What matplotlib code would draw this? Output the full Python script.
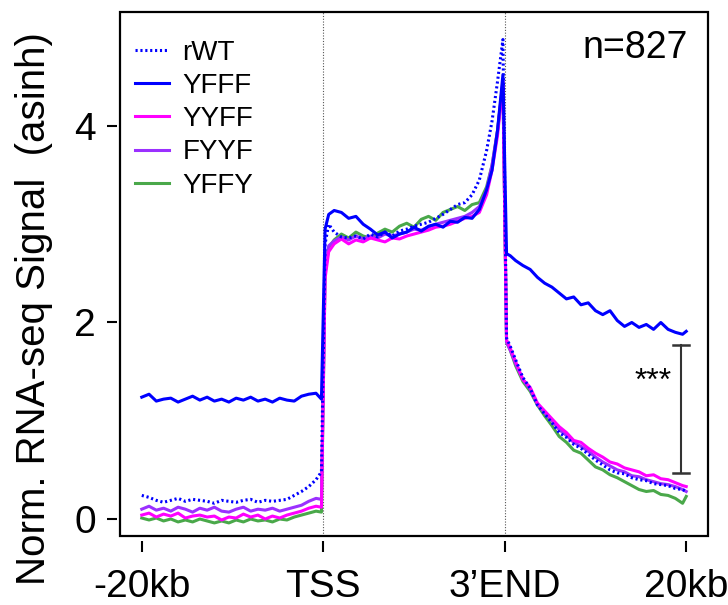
import numpy as np
import matplotlib

matplotlib.use("Agg")
import matplotlib.pyplot as plt
from matplotlib.patches import Rectangle

plt.rcParams["font.family"] = ["Liberation Sans", "DejaVu Sans"]

# bin positions: upstream (-20kb..TSS), scaled gene body (TSS..3'END), downstream (3'END..20kb)
UP_X = list(range(0, 100, 4)) + [99]
BODY_X = [101, 103] + list(range(106, 191, 4)) + [193, 196, 199]
DOWN_X = [201, 203] + list(range(206, 299, 4)) + [300]
X = np.array(UP_X + BODY_X + DOWN_X)

TICK_POS = [0, 100, 200, 300]
TICK_LABELS = ["-20kb", "TSS", "3\u2019END", "20kb"]
Y_TICKS = [0, 2, 4]

RWT = [
    0.24, 0.22, 0.19, 0.17, 0.19, 0.21, 0.18, 0.20, 0.19, 0.18, 0.16, 0.19, 0.18,
    0.17, 0.19, 0.20, 0.17, 0.19, 0.18, 0.19, 0.20, 0.24, 0.28, 0.33, 0.40, 0.48,
    2.80, 3.00, 2.92, 2.87, 2.86, 2.88, 2.85, 2.90, 2.87, 2.92, 2.88, 2.93, 2.95,
    2.98, 3.00, 3.02, 3.06, 3.10, 3.15, 3.20, 3.22, 3.30, 3.45, 3.75, 4.05, 4.45, 4.88,
    1.84, 1.76, 1.62, 1.44, 1.33, 1.16, 1.07, 0.98, 0.88, 0.83, 0.76, 0.72, 0.66,
    0.60, 0.55, 0.50, 0.47, 0.46, 0.42, 0.40, 0.39, 0.36, 0.35, 0.34, 0.31, 0.30, 0.28,
]
YFFF = [
    1.24, 1.27, 1.20, 1.22, 1.23, 1.19, 1.22, 1.25, 1.21, 1.24, 1.20, 1.22, 1.19,
    1.23, 1.21, 1.24, 1.20, 1.22, 1.19, 1.23, 1.21, 1.20, 1.25, 1.27, 1.28, 1.22,
    2.95, 3.10, 3.14, 3.12, 3.06, 3.08, 3.00, 2.95, 2.89, 2.92, 2.86, 2.90, 2.92,
    2.97, 2.93, 2.98, 3.00, 2.97, 3.03, 3.02, 3.07, 3.06, 3.15, 3.35, 3.55, 3.95, 4.52,
    2.70, 2.68, 2.63, 2.58, 2.54, 2.46, 2.40, 2.36, 2.30, 2.24, 2.26, 2.18, 2.20,
    2.12, 2.08, 2.12, 2.02, 1.96, 2.00, 1.95, 1.98, 1.93, 2.00, 1.93, 1.90, 1.88, 1.91,
]
YYFF = [
    0.04, 0.06, 0.02, 0.05, 0.03, 0.06, 0.01, 0.03, 0.04, 0.02, 0.03, -0.01, 0.02,
    0.01, 0.05, 0.02, 0.04, 0.00, 0.03, 0.01, 0.04, 0.06, 0.08, 0.11, 0.13, 0.12,
    2.45, 2.72, 2.80, 2.85, 2.80, 2.84, 2.82, 2.86, 2.84, 2.82, 2.86, 2.85, 2.88,
    2.90, 2.92, 2.94, 2.97, 2.98, 3.00, 3.03, 3.06, 3.08, 3.12, 3.30, 3.55, 3.90, 4.45,
    1.82, 1.74, 1.60, 1.42, 1.34, 1.18, 1.10, 1.02, 0.94, 0.88, 0.80, 0.78, 0.72,
    0.67, 0.63, 0.58, 0.56, 0.52, 0.50, 0.48, 0.44, 0.45, 0.41, 0.40, 0.37, 0.34, 0.33,
]
FYYF = [
    0.10, 0.13, 0.09, 0.11, 0.08, 0.12, 0.10, 0.07, 0.11, 0.09, 0.12, 0.08, 0.07,
    0.10, 0.12, 0.08, 0.10, 0.09, 0.11, 0.08, 0.10, 0.12, 0.14, 0.18, 0.21, 0.20,
    2.55, 2.78, 2.83, 2.87, 2.84, 2.88, 2.85, 2.88, 2.86, 2.90, 2.88, 2.90, 2.92,
    2.95, 2.94, 2.97, 3.00, 3.02, 3.04, 3.06, 3.08, 3.12, 3.18, 3.35, 3.60, 3.95, 4.45,
    1.80, 1.72, 1.58, 1.42, 1.32, 1.17, 1.08, 1.00, 0.91, 0.85, 0.78, 0.74, 0.69,
    0.63, 0.58, 0.54, 0.50, 0.48, 0.44, 0.43, 0.40, 0.38, 0.36, 0.35, 0.33, 0.30, 0.28,
]
YFFY = [
    0.01, -0.01, 0.01, -0.02, 0.00, -0.03, -0.01, -0.03, 0.00, -0.02, -0.04, -0.02, -0.04,
    -0.01, -0.03, 0.00, -0.02, -0.01, -0.03, 0.00, -0.01, 0.02, 0.04, 0.06, 0.08, 0.07,
    2.50, 2.76, 2.84, 2.90, 2.86, 2.92, 2.88, 2.86, 2.91, 2.95, 2.92, 2.98, 3.01,
    2.97, 3.05, 3.08, 3.04, 3.12, 3.15, 3.18, 3.14, 3.20, 3.22, 3.38, 3.60, 3.95, 4.42,
    1.80, 1.72, 1.56, 1.40, 1.30, 1.16, 1.05, 0.95, 0.84, 0.78, 0.70, 0.67, 0.60,
    0.53, 0.50, 0.45, 0.42, 0.38, 0.34, 0.30, 0.28, 0.29, 0.25, 0.24, 0.21, 0.16, 0.23,
]

N_GENES = 827
SIG_X = 297
SIG_LOW, SIG_HIGH = 0.47, 1.77

BLUE = "#0000FF"
MAGENTA = "#FF00FF"
PURPLE = "#9B30FF"
GREEN = "#4AA84A"

fig = plt.figure(figsize=(7.28, 6.05), dpi=100)
ax = fig.add_axes([120 / 728, 69 / 605, 588 / 728, 524 / 605])

for xv in (100, 200):
    ax.axvline(xv, color="#555555", lw=0.8, ls=(0, (1, 1.5)), zorder=1)

lw = 2.2
h_green, = ax.plot(X, YFFY, color=GREEN, lw=lw, zorder=2)
h_purple, = ax.plot(X, FYYF, color=PURPLE, lw=lw, zorder=2)
h_mag, = ax.plot(X, YYFF, color=MAGENTA, lw=lw, zorder=2)
h_yfff, = ax.plot(X, YFFF, color=BLUE, lw=lw, zorder=3)
h_rwt, = ax.plot(X, RWT, color=BLUE, lw=lw, ls=(0, (0.7, 0.9)), zorder=3)

ax.legend(
    [h_rwt, h_yfff, h_mag, h_purple, h_green],
    ["rWT", "YFFF", "YYFF", "FYYF", "YFFY"],
    loc="upper left",
    bbox_to_anchor=(0.026, 0.947),
    frameon=False,
    fontsize=20,
    handlelength=1.2,
    handletextpad=0.5,
    labelspacing=0.26,
    borderpad=0,
    borderaxespad=0,
)

ax.text(0.966, 0.965, f"n={N_GENES}", transform=ax.transAxes, ha="right", va="top", fontsize=27)

# significance bracket
ax.plot([SIG_X, SIG_X], [SIG_LOW, SIG_HIGH], color="#333333", lw=1.5)
ax.plot([SIG_X - 4.5, SIG_X + 4.5], [SIG_HIGH, SIG_HIGH], color="#333333", lw=1.8)
ax.plot([SIG_X - 4.5, SIG_X + 4.5], [SIG_LOW, SIG_LOW], color="#333333", lw=1.8)
ax.text(SIG_X - 15, (SIG_LOW + SIG_HIGH) / 2 + 0.28, "***", ha="center", va="center", fontsize=23)

ax.set_xlim(-12, 312)
ax.set_ylim(-0.173, 5.16)
ax.set_xticks(TICK_POS)
ax.set_xticklabels(TICK_LABELS)
ax.set_yticks(Y_TICKS)

for side in ("top", "right", "bottom", "left"):
    ax.spines[side].set_visible(False)
ax.spines["bottom"].set_position(("outward", 3.6))
ax.spines["left"].set_position(("outward", 2.2))
ax.add_patch(Rectangle((0, 0), 1, 1, transform=ax.transAxes, fill=False, lw=1.6,
                       edgecolor="black", clip_on=False, zorder=5))

ax.tick_params(axis="x", length=8, width=1.5, pad=12, labelsize=28)
ax.tick_params(axis="y", length=7.2, width=1.5, pad=8, labelsize=28)

fig.text(34 / 728, 1 - 309 / 605, "Norm. RNA-seq Signal  (asinh)", rotation=90,
         ha="center", va="center", fontsize=29)

fig.savefig("out.png", dpi=100)
